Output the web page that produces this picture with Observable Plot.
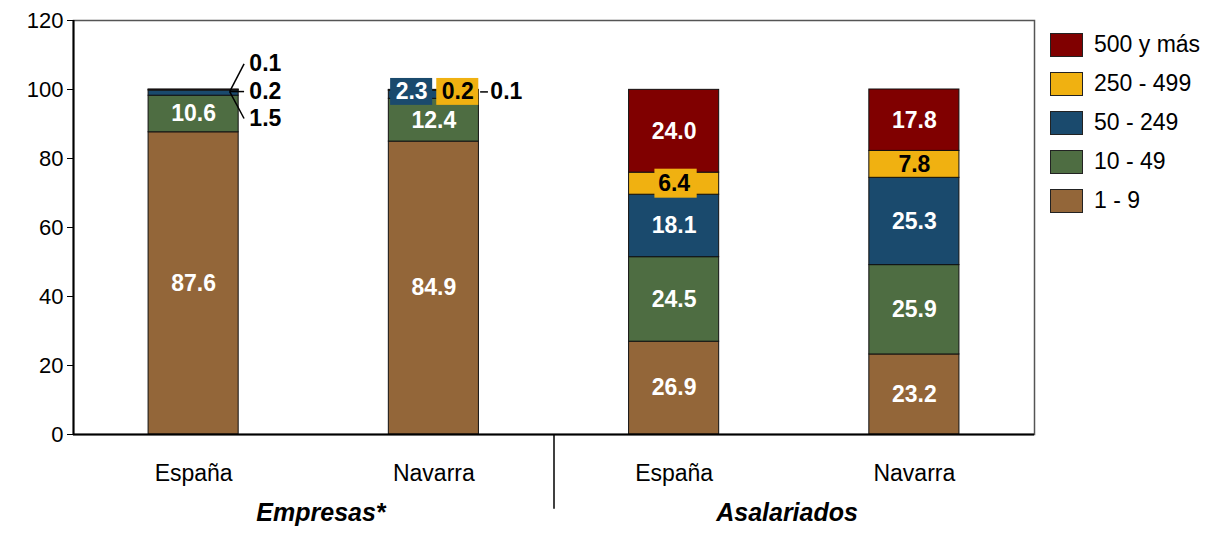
<!DOCTYPE html>
<html>
<head>
<meta charset="utf-8">
<script src="https://cdn.jsdelivr.net/npm/d3@7"></script>
<script src="https://cdn.jsdelivr.net/npm/@observablehq/plot@0.6"></script>
<style>
  html, body { margin: 0; padding: 0; background: #fff; }
  #wrap { position: relative; width: 1223px; height: 533px; font-family: "Liberation Sans", Arial, sans-serif; }
  #legend { position: absolute; left: 1050px; top: 32px; }
  .item { display: flex; align-items: center; height: 25px; margin-bottom: 14px; font-size: 23px; color: #000; }
  .sw { width: 33px; height: 24px; border: 1px solid #222; box-sizing: border-box; margin-right: 11px; }
</style>
</head>
<body>
<div id="wrap"><div id="chart"></div><div id="legend"></div></div>
<script>
// ---- data ----
const categories = ["España", "Navarra", "España", "Navarra"];
const groupLabels = ["Empresas*", "Asalariados"];
const sizes = ["1 - 9", "10 - 49", "50 - 249", "250 - 499", "500 y más"];
const empresasEspana = [87.6, 10.6, 1.5, 0.2, 0.1];
const empresasNavarra = [84.9, 12.4, 2.3, 0.2, 0.1];
const asalariadosEspana = [26.9, 24.5, 18.1, 6.4, 24.0];
const asalariadosNavarra = [23.2, 25.9, 25.3, 7.8, 17.8];
const colors = ["#936639", "#4e6d42", "#1a4a6d", "#f0b111", "#800000"];
const yTicks = [0, 20, 40, 60, 80, 100, 120];

const series = [empresasEspana, empresasNavarra, asalariadosEspana, asalariadosNavarra];
const rows = [];
series.forEach((vals, i) => {
  let cum = 0;
  vals.forEach((v, k) => {
    rows.push({i, size: sizes[k], k, v, y1: cum, y2: cum + v});
    cum += v;
  });
});
const totals = series.map(vals => d3.sum(vals));
const HW = 0.1875; // bar half width (band units)

// labels inside bars
const inside = rows.filter(d => d.v >= 5);
// small segments of Empresas España: callouts with leader lines
const calloutOffsets = {"500 y más": 8, "250 - 499": 0, "50 - 249": -7.8};
const calloutsA = rows.filter(d => d.i === 0 && d.v < 5).map(d => ({...d, ly: totals[0] + calloutOffsets[d.size] - 0.6}));
// Empresas Navarra: boxed labels
const navSmall = rows.filter(d => d.i === 1 && d.v < 5);
const boxed = navSmall.filter(d => d.size === "50 - 249" || d.size === "250 - 499")
  .map(d => ({...d, bx1: d.size === "50 - 249" ? d.i - 0.18 : d.i + 0.012, bx2: d.size === "50 - 249" ? d.i - 0.005 : d.i + 0.187,
              cy: totals[1] - 0.6}));
const navOut = navSmall.filter(d => d.size === "500 y más").map(d => ({...d, cy: totals[1] - 0.6}));
// yellow label backgrounds where the segment is thinner than the label
const yellowBg = inside.filter(d => d.size === "250 - 499" && d.v < 7);

const font = "'Liberation Sans', Arial, sans-serif";

const chart = Plot.plot({
  width: 1223,
  height: 533,
  marginLeft: 73,
  marginRight: 189,
  marginTop: 20,
  marginBottom: 99,
  style: {fontFamily: font, fontSize: "22px", color: "#000", background: "#fff", overflow: "visible"},
  x: {domain: [-0.5, 3.5], axis: null},
  y: {domain: [0, 120], axis: null},
  color: {domain: sizes, range: colors},
  marks: [
    Plot.frame({stroke: "#555", strokeWidth: 1.5}),
    Plot.rect(rows, {x1: d => d.i - HW, x2: d => d.i + HW, y1: "y1", y2: "y2", fill: "size", stroke: "#111", strokeWidth: 1}),
    // yellow label backgrounds
    Plot.rect(yellowBg, {x1: d => d.i - 0.08, x2: d => d.i + 0.096, y1: d => (d.y1 + d.y2) / 2 - 4.2, y2: d => (d.y1 + d.y2) / 2 + 4.2, fill: colors[3]}),
    Plot.text(inside, {x: "i", y: d => (d.y1 + d.y2) / 2, text: d => d.v.toFixed(1),
      fill: d => d.size === "250 - 499" ? "#000" : "#fff", fontWeight: "bold", fontSize: 23}),
    // callouts España empresas
    Plot.link(calloutsA, {x1: d => d.i + 0.15, y1: d => totals[0] - 0.6, x2: d => d.i + 0.21, y2: "ly", stroke: "#000", strokeWidth: 1.5}),
    Plot.text(calloutsA, {x: d => d.i + 0.232, y: "ly", text: d => d.v.toFixed(1), textAnchor: "start", fontWeight: "bold", fontSize: 23, fill: "#000"}),
    // boxed labels Navarra empresas
    Plot.rect(boxed, {x1: "bx1", x2: "bx2", y1: d => d.cy - 3.9, y2: d => d.cy + 3.9, fill: "size"}),
    Plot.text(boxed, {x: d => (d.bx1 + d.bx2) / 2, y: "cy", text: d => d.v.toFixed(1), fontWeight: "bold", fontSize: 23,
      fill: d => d.size === "250 - 499" ? "#000" : "#fff"}),
    Plot.link(navOut, {x1: d => d.i + HW + 0.005, x2: d => d.i + 0.225, y1: "cy", y2: "cy", stroke: "#000", strokeWidth: 1.5}),
    Plot.text(navOut, {x: d => d.i + 0.235, y: "cy", text: d => d.v.toFixed(1), textAnchor: "start", fontWeight: "bold", fontSize: 23, fill: "#000"}),
    // axes
    Plot.axisY({ticks: yTicks, tickSize: 6, tickPadding: 4, label: null, fontSize: 22, tickFormat: d => d, stroke: "#000"}),
    Plot.axisX({ticks: [0, 1, 2, 3], tickSize: 0, tickPadding: 30, label: null, fontSize: 23, tickFormat: i => categories[i]}),
    Plot.ruleY([0], {stroke: "#000", strokeWidth: 2}),
    Plot.ruleX([-0.5], {stroke: "#000", strokeWidth: 2}),
    // group separator
    Plot.ruleX([1.5], {y1: 0, y2: -21.7, stroke: "#000", strokeWidth: 1.5, clip: false}),
    // group labels
    Plot.text(groupLabels, {x: (d, j) => j === 0 ? 0.53 : 2.47, frameAnchor: "bottom", dy: 86, text: d => d,
      fontWeight: "bold", fontStyle: "italic", fontSize: 25, fill: "#000"})
  ]
});
document.getElementById("chart").appendChild(chart);

// legend (HTML), top to bottom reversed order
const legend = document.getElementById("legend");
sizes.slice().reverse().forEach(s => {
  const it = document.createElement("div");
  it.className = "item";
  const sw = document.createElement("div");
  sw.className = "sw";
  sw.style.background = colors[sizes.indexOf(s)];
  const t = document.createElement("span");
  t.textContent = s;
  it.appendChild(sw); it.appendChild(t);
  legend.appendChild(it);
});
</script>
</body>
</html>
